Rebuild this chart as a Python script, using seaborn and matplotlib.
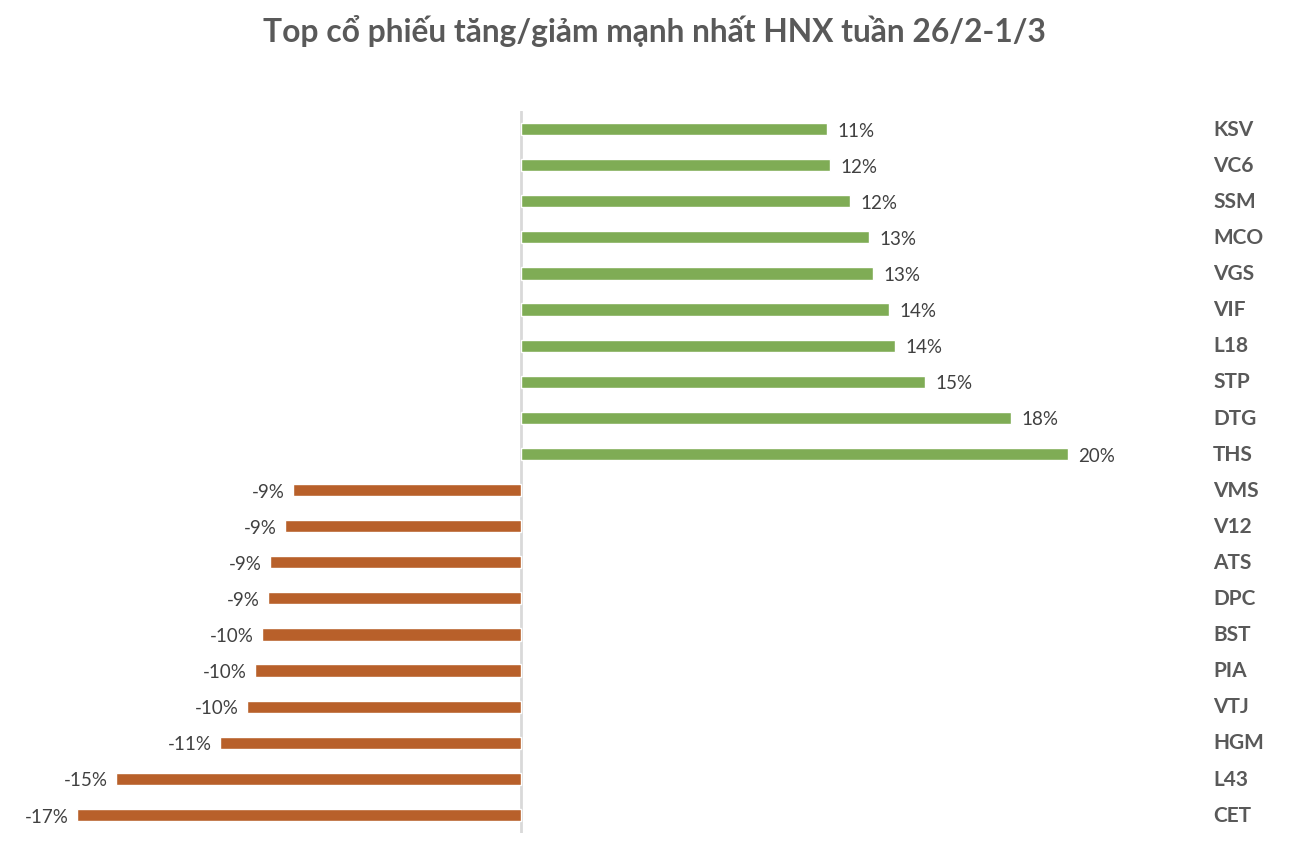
import matplotlib
matplotlib.use("Agg")
import matplotlib.pyplot as plt
import matplotlib.transforms as mtransforms
import seaborn as sns
import pandas as pd

tickers = ["KSV", "VC6", "SSM", "MCO", "VGS", "VIF", "L18", "STP", "DTG", "THS",
           "VMS", "V12", "ATS", "DPC", "BST", "PIA", "VTJ", "HGM", "L43", "CET"]
changes = [0.1144, 0.1155, 0.1230, 0.1300, 0.1316, 0.1376, 0.1398, 0.1510, 0.1832, 0.2045,
           -0.0852, -0.0882, -0.0938, -0.0946, -0.0968, -0.0994, -0.1024, -0.1125, -0.1514, -0.1660]
title = "Top cổ phiếu tăng/giảm mạnh nhất HNX tuần 26/2-1/3"

GREEN = "#7FAC55"
ORANGE = "#B8602A"

df = pd.DataFrame({"ticker": tickers, "change": changes})
df["sign"] = ["up" if v >= 0 else "down" for v in df["change"]]

sns.set_theme(style="white")
plt.rcParams["font.family"] = ["Lato", "Noto Sans", "DejaVu Sans"]

fig = plt.figure(figsize=(13.16, 8.44), dpi=100)
W, H = 1316, 844
ax = fig.add_axes([30 / W, 1 - 833 / H, (1160 - 30) / W, (833 - 111) / H])

sns.barplot(data=df, x="change", y="ticker", hue="sign", order=tickers,
            palette={"up": GREEN, "down": ORANGE}, orient="h", width=0.34,
            legend=False, ax=ax, saturation=1)

ax.set_xlim(-(521 - 30) / 2675, (1160 - 521) / 2675)
ax.set_ylim(len(tickers) - 0.5, -0.5)
ax.axvline(0, color="#D9D9D9", lw=2, zorder=0)

for s in ax.spines.values():
    s.set_visible(False)
ax.set_xticks([])
ax.set_yticks([])
ax.set_xlabel("")
ax.set_ylabel("")

for i, v in enumerate(changes):
    lbl = f"{round(v * 100):.0f}%"
    if v >= 0:
        ax.annotate(lbl, (v, i), xytext=(7.5, -1.5), textcoords="offset points",
                    ha="left", va="center", fontsize=13.5, color="#404040")
    else:
        ax.annotate(lbl, (v, i), xytext=(-6, -1.5), textcoords="offset points",
                    ha="right", va="center", fontsize=13.5, color="#404040")

trans = mtransforms.blended_transform_factory(fig.transFigure, ax.transData)
for i, t in enumerate(tickers):
    ax.text(1213 / W, i + 0.02, t, transform=trans, ha="left", va="center",
            fontsize=15, fontweight="bold", color="#595959")

fig.text(654 / W, 1 - 31 / H, title, ha="center", va="center",
         fontsize=22.9, fontweight="bold", color="#595959")

fig.savefig("out.png", dpi=100)
